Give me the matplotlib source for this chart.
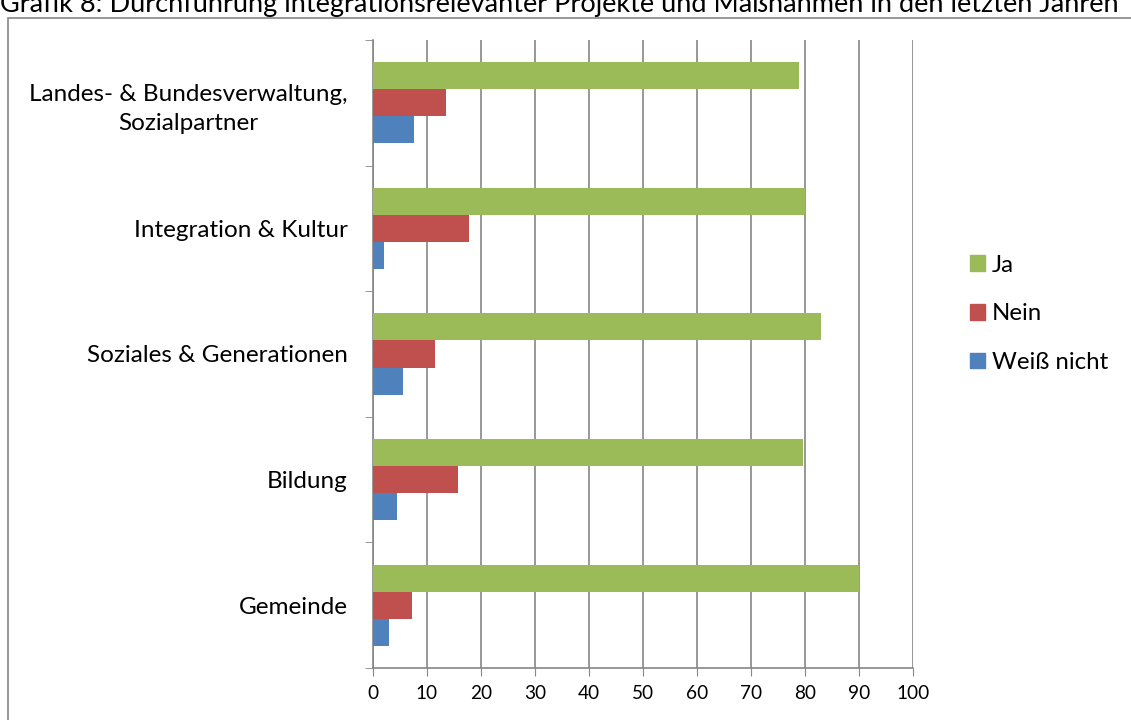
import numpy as np
import matplotlib.pyplot as plt
from matplotlib.patches import Rectangle, Patch

# categories bottom to top
categories = ['Gemeinde', 'Bildung', 'Soziales & Generationen',
              'Integration & Kultur', 'Landes- & Bundesverwaltung,\nSozialpartner']
ja = [90.0, 79.7, 83.0, 80.0, 78.8]
nein = [7.2, 15.7, 11.4, 17.8, 13.5]
weiss = [2.9, 4.4, 5.6, 2.0, 7.6]
series_names = ['Ja', 'Nein', 'Weiß nicht']
colors = ['#9BBB59', '#C0504D', '#4F81BD']

plt.rcParams['font.family'] = ['Lato', 'DejaVu Sans']

fig = plt.figure(figsize=(11.31, 7.2), dpi=100)
ax = fig.add_axes([373/1131, 1 - 668/720, 540/1131, 628/720])

y = np.arange(len(categories))
h = 0.215
ax.barh(y + h, ja, height=h, color=colors[0], zorder=3)
ax.barh(y, nein, height=h, color=colors[1], zorder=3)
ax.barh(y - h, weiss, height=h, color=colors[2], zorder=3)

ax.set_xlim(0, 100)
ax.set_ylim(-0.5, len(categories) - 0.5)
ax.set_xticks(np.arange(0, 101, 10))
ax.set_yticks(y)
ax.set_yticklabels(categories, fontsize=17.5, ha='right', multialignment='center',
                   linespacing=1.5)
ax.set_yticks(np.arange(-0.5, len(categories), 1), minor=True)
ax.tick_params(axis='y', which='major', length=0, pad=18)
ax.tick_params(axis='y', which='minor', length=6, color='#868686', direction='out')
ax.tick_params(axis='x', length=6, color='#868686', labelsize=13.7, pad=6)
ax.grid(axis='x', color='#868686', linewidth=1.2, zorder=0)

for s in ['top', 'right']:
    ax.spines[s].set_visible(False)
for s in ['left', 'bottom']:
    ax.spines[s].set_color('#868686')
    ax.spines[s].set_linewidth(1.2)

handles = [Patch(color=c, label=n) for c, n in zip(colors, series_names)]
fig.legend(handles=handles, loc='upper left', bbox_to_anchor=(948/1131, 1 - 233/720),
           frameon=False, fontsize=17.3, handlelength=0.62, handleheight=0.62,
           handletextpad=0.3, labelspacing=1.15)

# outer chart border
fig.patches.append(Rectangle((8/1131, -0.05), 1.2, 1.05 - 18/720, transform=fig.transFigure,
                             fill=False, edgecolor='#868686', linewidth=1.2))

fig.text(0.0, 1 - 12/720, 'Grafik 8: Durchführung integrationsrelevanter Projekte und Maßnahmen in den letzten Jahren',
         fontsize=19.5, ha='left', va='baseline')

fig.savefig('out.png', dpi=100)
